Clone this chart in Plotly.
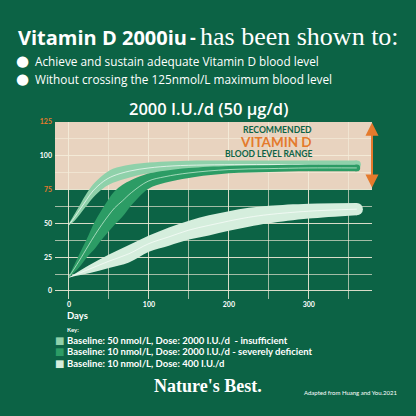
import plotly.graph_objects as go

# band 1: baseline 50 nmol/L, dose 2000 IU/d
days_a = [0, 7, 14, 22, 30, 43, 55, 76, 100, 130, 170, 220, 280, 360]
a_upper = [50, 57, 64, 72, 78.7, 86, 90.4, 93.4, 95, 96, 96.5, 96.5, 96.5, 96.5]
a_lower = [48.5, 52, 57, 63, 69, 76, 80, 84, 87, 89, 90, 90.5, 90.5, 90.5]
a_mid = [49, 54.5, 60.5, 67.5, 74, 81, 85, 88.7, 91, 92.5, 93.2, 93.5, 93.5, 93.5]

# band 2: baseline 10 nmol/L, dose 2000 IU/d
days_b = [0, 12, 24, 32, 41, 49, 57, 67, 78, 99, 120, 150, 200, 250, 300, 360]
b_upper = [11, 26, 40.7, 51, 60, 67.5, 73.8, 78.5, 82, 86.8, 89, 91, 92.5, 93, 93.5, 93.5]
b_lower = [10, 17, 26, 31, 38, 43.5, 49, 55, 63.4, 75.5, 80, 83.6, 87, 88, 88.5, 88.5]
b_mid = [10.5, 21.5, 33.3, 41, 49, 55.5, 61.4, 66.7, 72.7, 81.2, 84.5, 87.3, 89.8, 90.5, 91, 91]

# band 3: baseline 10 nmol/L, dose 400 IU/d
days_c = [0, 25, 50, 75, 100, 125, 150, 175, 200, 225, 250, 300, 360]
c_upper = [10, 19, 27, 34, 41, 47, 52, 56, 59, 61.5, 63, 64.5, 65]
c_lower = [10, 13, 17, 21, 29, 33.5, 38, 41, 44.5, 47.5, 50, 53.5, 56]
c_mid = [10, 16, 22, 27.5, 35, 40, 45, 48.5, 51.7, 54.5, 56.5, 59, 60.5]

key_labels = [
    "Baseline: 50 nmol/L, Dose: 2000 I.U./d  - insufficient",
    "Baseline: 10 nmol/L, Dose: 2000 I.U./d - severely deficient",
    "Baseline: 10 nmol/L, Dose: 400 I.U./d",
]
x_ticks = [0, 100, 200, 300]
y_ticks = [0, 25, 50, 75, 100, 125]

BG = "#0c6345"
BEIGE = "#e8d3bf"
ORANGE = "#e47a2c"
LIGHT = "#8fd1aa"
MED = "#2c9c65"
PALE = "#d5eedd"
GRID = "rgba(245,236,218,0.65)"
SANS = "Lato"
HEAD = "Open Sans"
SERIF = "Liberation Serif"

# plot area in pixels (416 canvas)
L, R, T, B = 55, 372, 122, 299
YMIN, YMAX = -6, 125
PX_PER_UNIT = (B - T) / (YMAX - YMIN)


def px(x, y):
    return (x - L) / (R - L), (B - y) / (B - T)


fig = go.Figure()

bands = [
    (days_c, c_lower, c_upper, c_mid, PALE, "rgba(255,255,255,0.8)"),
    (days_a, a_lower, a_upper, a_mid, LIGHT, "rgba(255,255,255,0.85)"),
    (days_b, b_lower, b_upper, b_mid, MED, "rgba(220,245,225,0.85)"),
]
for days, lo, hi, mid, col, lcol in bands:
    fig.add_trace(go.Scatter(x=days, y=lo, mode="lines", line=dict(width=0, shape="spline"),
                             showlegend=False, hoverinfo="skip"))
    fig.add_trace(go.Scatter(x=days, y=hi, mode="lines", line=dict(width=0, shape="spline"),
                             fill="tonexty", fillcolor=col, showlegend=False, hoverinfo="skip"))
    # rounded end of the band
    fig.add_trace(go.Scatter(x=[days[-1]], y=[(hi[-1] + lo[-1]) / 2], mode="markers",
                             marker=dict(size=(hi[-1] - lo[-1]) * PX_PER_UNIT, color=col, line_width=0),
                             showlegend=False, hoverinfo="skip"))
    fig.add_trace(go.Scatter(x=days, y=mid, mode="lines", line=dict(width=0.8, color=lcol, shape="spline"),
                             showlegend=False, hoverinfo="skip"))

# recommended range
fig.add_shape(type="rect", xref="paper", x0=0, x1=1, yref="y", y0=75, y1=125,
              fillcolor=BEIGE, line_width=0, layer="below")

ytext = [("<span style='color:%s'>%d</span>" % (ORANGE, v)) if v in (75, 125) else str(v) for v in y_ticks]

fig.update_xaxes(range=[-17.5, 379], tickvals=x_ticks, ticktext=[str(v) for v in x_ticks],
                 showgrid=True, gridcolor=GRID, gridwidth=1, zeroline=False, showline=False,
                 minor=dict(dtick=50, tick0=0, showgrid=True, gridcolor=GRID, gridwidth=1),
                 tickfont=dict(family=SANS, size=7, color="white", weight="bold"), ticks="",
                 ticklabelstandoff=0)
fig.update_yaxes(range=[YMIN, YMAX], tickvals=y_ticks, ticktext=ytext,
                 showgrid=True, gridcolor=GRID, gridwidth=1, zeroline=False, showline=False,
                 minor=dict(dtick=12.5, tick0=0, showgrid=True, gridcolor=GRID, gridwidth=1),
                 tickfont=dict(family=SANS, size=7, color="white", weight="bold"), ticks="",
                 ticklabelstandoff=2)

ann = []


def text(x, y, s, size, color="white", family=SANS, xanchor="left", weight="normal"):
    xp, yp = px(x, y)
    ann.append(dict(xref="paper", yref="paper", x=xp, y=yp, text=s, showarrow=False,
                    xanchor=xanchor, yanchor="middle", borderpad=0,
                    font=dict(family=family, size=size, color=color, weight=weight)))


text(17, 38, "<b>Vitamin D 2000iu</b>", 20, family=HEAD)
text(189, 37, "<b>-</b>", 18, family=HEAD)
text(199, 36, "has been shown to:", 26, family=SERIF)
text(15, 61, "\u25cf", 15, family="DejaVu Sans")
text(34, 61, "Achieve and sustain adequate Vitamin D blood level", 11.8, family=HEAD)
text(15, 79, "\u25cf", 15, family="DejaVu Sans")
text(34, 79, "Without crossing the 125nmol/L maximum blood level", 11.8, family=HEAD)
text(208, 108, "2000 I.U./d (50 \u00b5g/d)", 16.5, family=HEAD, xanchor="center", weight=600)

text(313, 129.5, "<b>RECOMMENDED</b>", 8.6, color=BG, xanchor="right")
text(313, 141.5, "<b>VITAMIN D</b>", 13.5, color=ORANGE, xanchor="right")
text(313, 154, "<b>BLOOD LEVEL RANGE</b>", 8.5, color=BG, xanchor="right")

text(66, 315, "<b>Days</b>", 9.5)
text(66, 329, "<b>Key:</b>", 6)
for i, (lab, col) in enumerate(zip(key_labels, [LIGHT, MED, PALE])):
    y = 340 + 11.8 * i
    text(54, y, "\u25a0", 10, color=col, family="DejaVu Sans")
    text(66, y, "<b>%s</b>" % lab, 9.5)

text(208, 386, "<b>Nature's Best.</b>", 18, family=SERIF, xanchor="center")
text(398, 392, "Adapted from Huang and You.2021", 6, xanchor="right")

# double-headed arrow on the right side of the range
ann.append(dict(xref="x", yref="y", axref="x", ayref="y", x=379, y=124.5, ax=379, ay=75.5,
                text="", showarrow=True, arrowhead=2, arrowside="end+start", arrowsize=1.3,
                arrowwidth=2, arrowcolor=ORANGE))

fig.update_layout(width=416, height=416, margin=dict(l=L, r=416 - R, t=T, b=416 - B),
                  paper_bgcolor=BG, plot_bgcolor=BG, annotations=ann, showlegend=False)

fig.write_html("out.html", config={"displayModeBar": False},
               post_script="document.body.style.margin='0';document.body.style.overflow='hidden';")
